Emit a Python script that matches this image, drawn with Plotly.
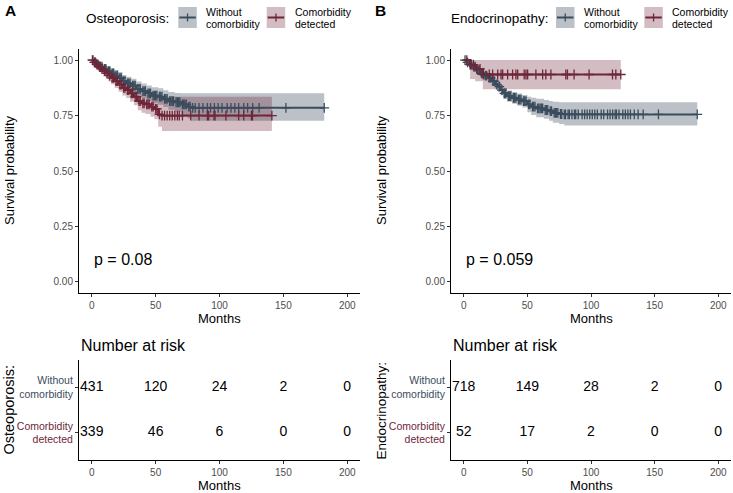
import numpy as np
import plotly.graph_objects as go

W, H = 733, 493
FONT = "Liberation Sans, Arial, sans-serif"
DARK = "#3B4C5D"
RED = "#6E2639"
DARK_FILL = "rgba(59,76,93,0.35)"
RED_FILL = "rgba(110,38,57,0.30)"
TICK_GRAY = "#4D4D4D"

# ---------------- Panel A: Osteoporosis ----------------
a_wo_time = [0, 2, 4, 6, 9, 12, 15, 18, 21, 24, 27, 31, 35, 39, 43, 47, 52, 56, 60, 65, 70, 75, 78]
a_wo_surv = [1.0, 0.99, 0.98, 0.97, 0.96, 0.95, 0.94, 0.93, 0.92, 0.905, 0.895, 0.885, 0.87, 0.86,
             0.85, 0.84, 0.835, 0.825, 0.815, 0.81, 0.80, 0.79, 0.785]
a_wo_upper = [1.0, 1.0, 0.994, 0.987, 0.979, 0.971, 0.963, 0.955, 0.946, 0.933, 0.925, 0.916, 0.903,
              0.894, 0.885, 0.877, 0.873, 0.864, 0.856, 0.852, 0.85, 0.85, 0.85]
a_wo_lower = [1.0, 0.98, 0.967, 0.954, 0.942, 0.930, 0.918, 0.906, 0.895, 0.878, 0.866, 0.855, 0.838,
              0.827, 0.816, 0.805, 0.799, 0.788, 0.776, 0.768, 0.750, 0.737, 0.727]
a_wo_censor = [1, 2.5, 3, 5, 6.5, 7, 8, 10, 11, 13, 14, 16, 17, 19, 20, 22, 23, 25, 26, 28, 29, 30, 32,
               33, 34, 36, 37, 38, 40, 41, 42, 44, 45, 46, 48, 49, 50, 51, 53, 54, 55, 57, 58, 59, 61,
               62, 63, 64, 66, 67, 68, 69, 71, 72, 73, 74, 76, 77, 79, 81, 84, 87, 90.5, 93, 96, 99,
               102, 106, 109, 112, 115, 119, 122, 126, 131, 152, 182]

a_cd_time = [0, 1, 3, 5, 7, 9, 11, 13, 15, 18, 21, 24, 27, 30, 33, 36, 39, 42, 46, 49, 52, 55]
a_cd_surv = [1.0, 0.99, 0.98, 0.97, 0.96, 0.95, 0.94, 0.93, 0.92, 0.905, 0.89, 0.875, 0.865, 0.85,
             0.835, 0.815, 0.805, 0.80, 0.79, 0.78, 0.755, 0.75]
a_cd_upper = [1.0, 1.0, 0.995, 0.988, 0.981, 0.973, 0.965, 0.957, 0.949, 0.936, 0.922, 0.909, 0.900,
              0.887, 0.873, 0.855, 0.847, 0.843, 0.838, 0.835, 0.835, 0.835]
a_cd_lower = [1.0, 0.979, 0.965, 0.952, 0.939, 0.927, 0.915, 0.903, 0.891, 0.874, 0.857, 0.840, 0.829,
              0.812, 0.796, 0.774, 0.763, 0.757, 0.745, 0.733, 0.70, 0.68]
a_cd_censor = [0.5, 2, 4, 6, 8, 10, 12, 14, 16, 17, 19, 20, 22, 23, 25, 26, 28, 29, 31, 32, 34, 35, 37,
               38, 40, 41, 43, 44, 45, 47, 48, 50, 51, 53, 55, 57, 59, 61, 63, 65, 67, 68.5, 71, 77.5,
               84, 90.5, 91.5, 95.7, 96.5, 105, 115, 119, 125, 125.8, 141]

a_risk_wo = [431, 120, 24, 2, 0]
a_risk_cd = [339, 46, 6, 0, 0]
a_pval = "p = 0.08"

# ---------------- Panel B: Endocrinopathy ----------------
b_wo_time = [0, 2, 4, 7, 10, 13, 16, 19, 22, 25, 27, 29, 31, 34, 38, 42, 46, 50, 53, 57, 63, 67, 70, 75, 79]
b_wo_surv = [1.0, 0.99, 0.98, 0.97, 0.955, 0.94, 0.93, 0.92, 0.905, 0.89, 0.88, 0.865, 0.85, 0.838,
             0.83, 0.822, 0.815, 0.80, 0.79, 0.782, 0.775, 0.77, 0.762, 0.757, 0.755]
b_wo_upper = [1.0, 0.997, 0.99, 0.982, 0.969, 0.956, 0.947, 0.938, 0.925, 0.911, 0.902, 0.888, 0.874,
              0.863, 0.856, 0.849, 0.843, 0.835, 0.83, 0.826, 0.82, 0.816, 0.812, 0.81, 0.81]
b_wo_lower = [1.0, 0.983, 0.97, 0.957, 0.940, 0.923, 0.912, 0.901, 0.884, 0.868, 0.857, 0.841, 0.825,
              0.812, 0.803, 0.794, 0.786, 0.765, 0.752, 0.742, 0.735, 0.727, 0.718, 0.712, 0.705]
b_wo_censor = [1, 3, 5, 6, 8, 9, 11, 12, 14, 15, 17, 18, 20, 21, 23, 24, 26, 28, 30, 32, 33, 35, 36,
               37, 39, 40, 41, 43, 44, 45, 47, 48, 49, 51, 52, 54, 55, 56, 58, 59, 60, 61, 62, 64, 65,
               66, 68, 69, 71, 72, 73, 74, 76, 77, 79, 80, 82, 83, 85, 87, 88, 90, 93, 95, 97, 99, 101,
               103, 105, 108, 110, 113, 115, 117, 119, 120, 122, 125, 127, 129, 131, 134, 137, 141,
               153, 183.5]

b_cd_time = [0, 5, 9, 15]
b_cd_surv = [1.0, 0.98, 0.96, 0.935]
b_cd_upper = [1.0, 1.0, 1.0, 1.0]
b_cd_lower = [1.0, 0.915, 0.905, 0.868]
b_cd_censor = [2.4, 5.5, 7.6, 10.2, 12.8, 15.4, 20.1, 22.7, 26.7, 29.3, 30.6, 34.5, 38.4, 41, 42.4,
               47.5, 48.9, 50.2, 56.7, 62, 64.5, 68.5, 80.2, 81.5, 86.7, 98.5, 116.9, 119.5, 123.4]

b_risk_wo = [718, 149, 28, 2, 0]
b_risk_cd = [52, 17, 2, 0, 0]
b_pval = "p = 0.059"

risk_times = [0, 50, 100, 150, 200]
x_ticks = [0, 50, 100, 150, 200]
y_ticks = [0, 0.25, 0.5, 0.75, 1.0]
group_labels = ["Without comorbidity", "Comorbidity detected"]


def px(x):
    return x / W


def py(y):
    return 1 - y / H


fig = go.Figure()


def step_lookup(times, surv, t):
    idx = np.searchsorted(np.asarray(times, float), np.asarray(t, float), side="right") - 1
    return np.asarray(surv)[idx]


def add_band(xa, ya, times, upper, lower, censor, fill):
    end = max(censor)
    tx = list(times) + [end]
    fig.add_trace(go.Scatter(x=tx, y=list(lower) + [lower[-1]], mode="lines",
                             line=dict(width=0, shape="hv"), xaxis=xa, yaxis=ya,
                             showlegend=False, hoverinfo="skip"))
    fig.add_trace(go.Scatter(x=tx, y=list(upper) + [upper[-1]], mode="lines",
                             line=dict(width=0, shape="hv"), fill="tonexty", fillcolor=fill,
                             xaxis=xa, yaxis=ya, showlegend=False, hoverinfo="skip"))


def add_curve(xa, ya, times, surv, censor, color, name):
    end = max(censor)
    fig.add_trace(go.Scatter(x=list(times) + [end], y=list(surv) + [surv[-1]], mode="lines",
                             line=dict(color=color, width=2, shape="hv"), xaxis=xa, yaxis=ya,
                             name=name, showlegend=False))
    fig.add_trace(go.Scatter(x=censor, y=step_lookup(times, surv, censor), mode="markers",
                             marker=dict(symbol="cross-thin-open", size=7, color=color,
                                         line=dict(color=color, width=1.3)),
                             xaxis=xa, yaxis=ya, showlegend=False, name=name))


# Panel A curves
add_band("x", "y", a_wo_time, a_wo_upper, a_wo_lower, a_wo_censor, DARK_FILL)
add_band("x", "y", a_cd_time, a_cd_upper, a_cd_lower, a_cd_censor, RED_FILL)
add_curve("x", "y", a_wo_time, a_wo_surv, a_wo_censor, DARK, group_labels[0])
add_curve("x", "y", a_cd_time, a_cd_surv, a_cd_censor, RED, group_labels[1])
# Panel B curves
add_band("x2", "y2", b_wo_time, b_wo_upper, b_wo_lower, b_wo_censor, DARK_FILL)
add_band("x2", "y2", b_cd_time, b_cd_upper, b_cd_lower, b_cd_censor, RED_FILL)
add_curve("x2", "y2", b_wo_time, b_wo_surv, b_wo_censor, DARK, group_labels[0])
add_curve("x2", "y2", b_cd_time, b_cd_surv, b_cd_censor, RED, group_labels[1])

# Risk tables
for xa, ya, wo, cd in [("x3", "y3", a_risk_wo, a_risk_cd), ("x4", "y4", b_risk_wo, b_risk_cd)]:
    fig.add_trace(go.Scatter(x=risk_times, y=[2] * len(wo), mode="text", text=[str(v) for v in wo],
                             textfont=dict(size=14, color="black", family=FONT), xaxis=xa, yaxis=ya,
                             showlegend=False, hoverinfo="skip"))
    fig.add_trace(go.Scatter(x=risk_times, y=[1] * len(cd), mode="text", text=[str(v) for v in cd],
                             textfont=dict(size=14, color="black", family=FONT), xaxis=xa, yaxis=ya,
                             showlegend=False, hoverinfo="skip"))

main_ydom = [py(293), py(49)]
risk_ydom = [py(460), py(360)]
a_xdom = [px(79), px(360)]
b_xdom = [px(451), px(731)]

common_axis = dict(showline=True, linecolor="black", linewidth=1, ticks="outside", ticklen=3,
                   tickcolor="#333333", tickwidth=1, showgrid=False, zeroline=False,
                   tickfont=dict(size=10, color=TICK_GRAY, family=FONT), automargin=False)

xcommon = dict(common_axis, range=[-10, 210], tickvals=x_ticks)
ycommon = dict(common_axis, range=[-0.05, 1.05], tickvals=y_ticks, tickformat=".2f")


def risk_labels():
    return [f'<span style="color:{RED}">Comorbidity</span><br><span style="color:{RED}">detected</span>',
            f'<span style="color:{DARK}">Without</span><br><span style="color:{DARK}">comorbidity</span>']


ycommon_risk = dict(common_axis, range=[0.4, 2.6], tickvals=[1, 2], ticktext=risk_labels())
ycommon_risk["tickfont"] = dict(size=10.5, family=FONT)

fig.update_layout(
    width=W, height=H, margin=dict(l=0, r=0, t=0, b=0),
    plot_bgcolor="white", paper_bgcolor="white",
    font=dict(family=FONT, color="black"),
    showlegend=False,
    xaxis=dict(xcommon, domain=a_xdom, anchor="y"),
    yaxis=dict(ycommon, domain=main_ydom, anchor="x"),
    xaxis2=dict(xcommon, domain=b_xdom, anchor="y2"),
    yaxis2=dict(ycommon, domain=main_ydom, anchor="x2"),
    xaxis3=dict(xcommon, domain=a_xdom, anchor="y3"),
    yaxis3=dict(ycommon_risk, domain=risk_ydom, anchor="x3"),
    xaxis4=dict(xcommon, domain=b_xdom, anchor="y4"),
    yaxis4=dict(ycommon_risk, domain=risk_ydom, anchor="x4"),
)

ann = []
shapes = []


def txt(x, y, s, size, **kw):
    d = dict(x=x, y=y, xref="paper", yref="paper", text=s, showarrow=False,
             font=dict(size=size, color=kw.pop("color", "black"), family=FONT),
             xanchor=kw.pop("xanchor", "center"), yanchor=kw.pop("yanchor", "middle"))
    d.update(kw)
    ann.append(d)


def legend(title, title_right, keys):
    txt(px(title_right), py(19), title, 13.5, xanchor="right")
    for (x0, color, fill, lab1, lab2) in keys:
        x1 = x0 + 18.5
        shapes.append(dict(type="rect", xref="paper", yref="paper", x0=px(x0), x1=px(x1),
                           y0=py(28), y1=py(7), fillcolor=fill, line=dict(width=0), layer="above"))
        shapes.append(dict(type="line", xref="paper", yref="paper", x0=px(x0 + 1), x1=px(x1 - 1),
                           y0=py(17.5), y1=py(17.5), line=dict(color=color, width=2)))
        shapes.append(dict(type="line", xref="paper", yref="paper", x0=px((x0 + x1) / 2), x1=px((x0 + x1) / 2),
                           y0=py(13.5), y1=py(21.5), line=dict(color=color, width=1.3)))
        txt(px(x1 + 7.5), py(12.5), lab1, 10.5, xanchor="left")
        txt(px(x1 + 7.5), py(24), lab2, 10.5, xanchor="left")


legend("Osteoporosis:", 171, [(178.3, DARK, DARK_FILL, "Without", "comorbidity"),
                              (266.7, RED, RED_FILL, "Comorbidity", "detected")])
legend("Endocrinopathy:", 551, [(556, DARK, DARK_FILL, "Without", "comorbidity"),
                                (644.3, RED, RED_FILL, "Comorbidity", "detected")])

txt(px(3), py(11), "<b>A</b>", 15.5, xanchor="left")
txt(px(373), py(11), "<b>B</b>", 15.5, xanchor="left")

for x_axis_left, x_center, pv, xref, yref, rtitle, rsize in [
        (79, 219.5, a_pval, "x", "y", "Osteoporosis:", 14.5),
        (451, 591, b_pval, "x2", "y2", "Endocrinopathy:", 13.5)]:
    off = x_axis_left - 79
    txt(px(9 + off), py(170), "Survival probability", 13, textangle=-90)
    txt(px(x_center), py(318), "Months", 13)
    txt(px(x_center), py(485.5), "Months", 13)
    txt(px(x_axis_left), py(345), "Number at risk", 16, xanchor="left")
    txt(px(8.5 + off), py(410), rtitle, rsize, textangle=-90)
    ann.append(dict(x=0, y=0.1, xref=xref, yref=yref, text=pv, showarrow=False,
                    font=dict(size=16, color="black", family=FONT), xanchor="left", yanchor="middle"))

fig.update_layout(annotations=ann, shapes=shapes)
fig.write_html("out.html", config={"displayModeBar": False},
               post_script="document.body.style.margin='0';document.body.style.padding='0';"
                           "document.body.style.overflow='hidden';")
